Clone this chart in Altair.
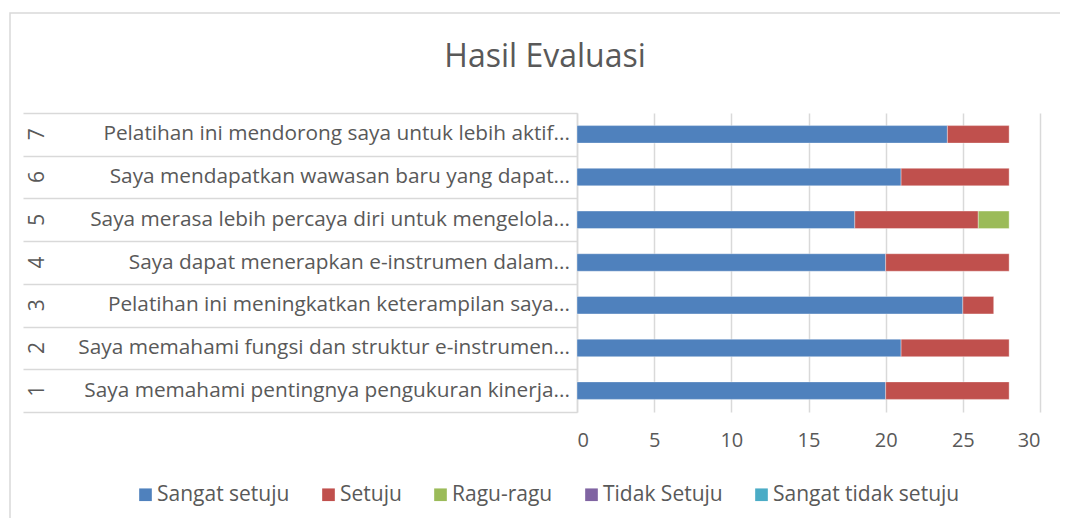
import altair as alt
import pandas as pd

# ---- data ----
nums = ["1", "2", "3", "4", "5", "6", "7"]
labels = [
    "Saya memahami pentingnya pengukuran kinerja...",
    "Saya memahami fungsi dan struktur e-instrumen...",
    "Pelatihan ini meningkatkan keterampilan saya...",
    "Saya dapat menerapkan e-instrumen dalam...",
    "Saya merasa lebih percaya diri untuk mengelola...",
    "Saya mendapatkan wawasan baru yang dapat...",
    "Pelatihan ini mendorong saya untuk lebih aktif...",
]
series = ["Sangat setuju", "Setuju", "Ragu-ragu", "Tidak Setuju", "Sangat tidak setuju"]
sangat_setuju = [20, 21, 25, 20, 18, 21, 24]
setuju = [8, 7, 2, 8, 8, 7, 4]
ragu_ragu = [0, 0, 0, 0, 2, 0, 0]
tidak_setuju = [0, 0, 0, 0, 0, 0, 0]
sangat_tidak_setuju = [0, 0, 0, 0, 0, 0, 0]
x_ticks = [0, 5, 10, 15, 20, 25, 30]
title_text = "Hasil Evaluasi"
colors = ["#4f81bd", "#c0504d", "#9bbb59", "#8064a2", "#4bacc6"]

values = [sangat_setuju, setuju, ragu_ragu, tidak_setuju, sangat_tidak_setuju]
rows = []
for si, (s, vals) in enumerate(zip(series, values)):
    for n, v in zip(nums, vals):
        rows.append({"no": n, "series": s, "value": v, "idx": si})
df = pd.DataFrame(rows)
df_lab = pd.DataFrame({"no": nums, "label": labels})
df_title = pd.DataFrame({"t": [title_text]})

FONT = "Open Sans"
TXT = "#595959"
GRID = "#d9d9d9"
y_order = nums[::-1]

yscale = alt.Scale(paddingInner=0, paddingOuter=0)
yaxis = alt.Axis(title=None, labels=False, ticks=True, tickSize=554,
                 tickBand="extent", tickColor=GRID, domainColor=GRID,
                 grid=False, tickWidth=1.5, domainWidth=1.5)


def yenc():
    return alt.Y("no:N", sort=y_order, scale=yscale, axis=yaxis)


border = alt.Chart(df_title).mark_rect(
    fillOpacity=0, stroke=GRID, strokeWidth=1.5
).encode(
    x=alt.value(-567), x2=alt.value(700), y=alt.value(-100), y2=alt.value(600)
)

bars = alt.Chart(df).transform_filter("datum.value > 0").mark_bar(
    stroke="white", strokeWidth=0.6, strokeOpacity=0.6,
    height=alt.RelativeBandSize(0.41),
).encode(
    y=yenc(),
    x=alt.X("value:Q", stack="zero", scale=alt.Scale(domain=[0, 30], nice=False),
            axis=alt.Axis(title=None, values=x_ticks, ticks=False, domain=False,
                          grid=True, gridColor=GRID, gridWidth=1.5,
                          labelFont=FONT, labelFontSize=20, labelColor=TXT,
                          labelPadding=18)),
    color=alt.Color("series:N", scale=alt.Scale(domain=series, range=colors),
                    legend=alt.Legend(title=None, orient="none", direction="horizontal",
                                      legendX=-442, legendY=371, symbolType="square",
                                      symbolSize=160, symbolStrokeWidth=0,
                                      labelFont=FONT, labelFontSize=21, labelColor=TXT,
                                      labelLimit=400, labelOffset=1, columnPadding=28)),
    order=alt.Order("idx:Q"),
)

cat_labels = alt.Chart(df_lab).mark_text(
    align="right", baseline="middle", font=FONT, fontSize=20.8, color=TXT
).encode(
    y=yenc(),
    x=alt.value(-7),
    text="label:N",
)

num_labels = alt.Chart(df_lab).mark_text(
    align="center", baseline="middle", font=FONT, fontSize=21, color=TXT, angle=270
).encode(
    y=yenc(),
    x=alt.value(-539),
    text="no:N",
)

title = alt.Chart(df_title).mark_text(
    align="center", baseline="middle", font=FONT, fontSize=32, color=TXT
).encode(
    x=alt.value(-32), y=alt.value(-56), text="t:N"
)

chart = alt.layer(border, bars, cat_labels, num_labels, title).properties(
    width=463, height=299,
    padding={"left": 569, "top": 105, "right": 20, "bottom": 106},
    autosize=alt.AutoSizeParams(type="none"),
).configure_view(stroke=None)

chart.save("out.html", embed_options={"renderer": "svg", "actions": False})
